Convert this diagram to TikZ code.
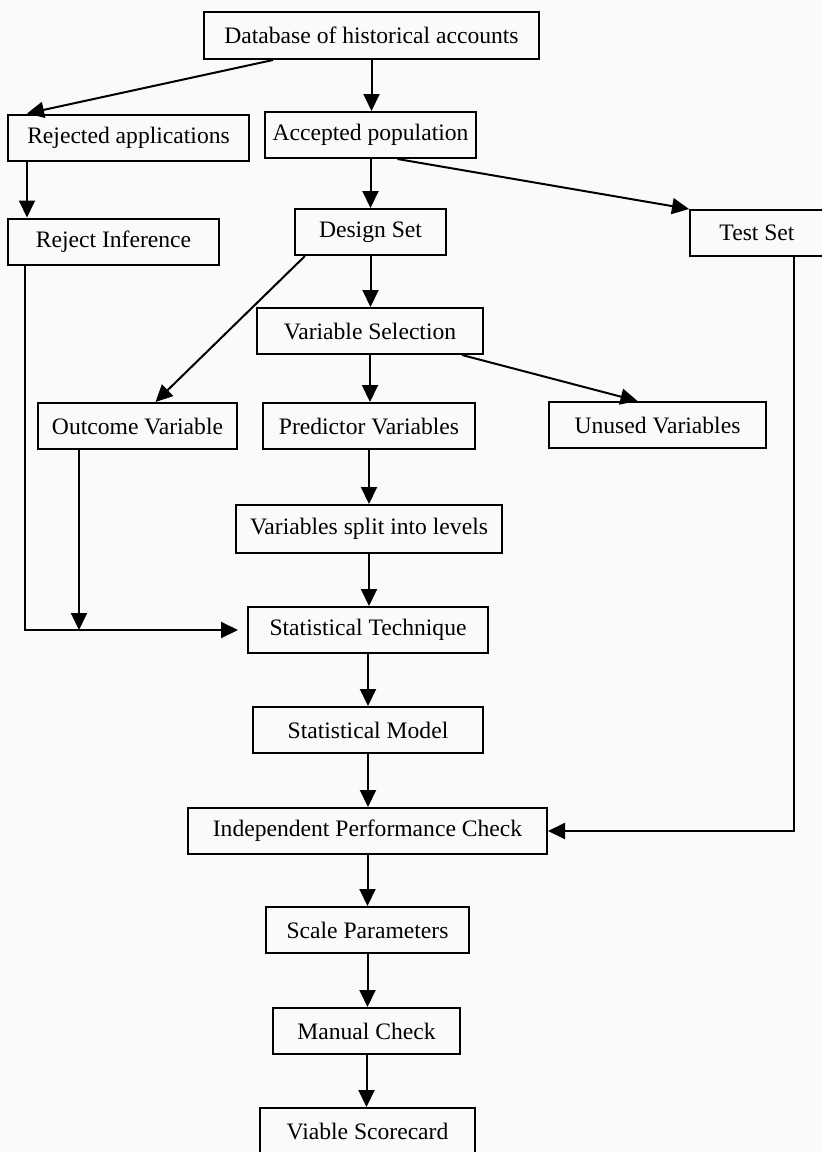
\documentclass[tikz,border=0pt]{standalone}
\usepackage{fontspec}
\setmainfont{Liberation Serif}
\usetikzlibrary{arrows.meta,calc}

\tikzset{
  flowbox/.style={draw, line width=1pt, inner sep=0pt, minimum height=23pt,
    font=\fontsize{11.8}{14}\selectfont},
  bw/.style={minimum width=#1*0.5pt},
  flowarrow/.style={line width=1pt, -{Triangle[length=8.5pt,width=8pt]}}
}

\begin{document}
\begin{tikzpicture}[x=0.5pt,y=-0.5pt]
\fill[black!2] (0,0) rectangle (822,1152);
\useasboundingbox (0,0) rectangle (822,1152);

% boxes
\node[flowbox,bw=335,minimum height=23.5pt] (db) at (371.5,35.5) {Database of historical accounts};
\node[flowbox,bw=241] (rej) at (128.5,137.5) {Rejected applications};
\node[flowbox,bw=211] (acc) at (370.5,135) {Accepted population};
\node[flowbox,bw=211] (ri) at (113.5,241.5) {Reject Inference};
\node[flowbox,bw=151] (ds) at (370.5,232) {Design Set};
\node[flowbox,bw=134] (ts) at (757,233) {Test Set};
\node[flowbox,bw=226] (vs) at (370,331) {Variable Selection};
\node[flowbox,bw=199] (ov) at (137.5,426) {Outcome Variable};
\node[flowbox,bw=212] (pv) at (369,426) {Predictor Variables};
\node[flowbox,bw=217] (uv) at (657.5,425) {Unused Variables};
\node[flowbox,bw=266,minimum height=24pt] (split) at (369,529) {Variables split into levels};
\node[flowbox,bw=240] (st) at (368,630) {Statistical Technique};
\node[flowbox,bw=230] (sm) at (368,730) {Statistical Model};
\node[flowbox,bw=359] (ipc) at (367.5,831) {Independent Performance Check};
\node[flowbox,bw=203] (sp) at (367.5,930) {Scale Parameters};
\node[flowbox,bw=187] (mc) at (366.5,1031) {Manual Check};
\node[flowbox,bw=215] (vsc) at (367.5,1131) {Viable Scorecard};

% connectors
\draw[flowarrow] ($(db.south west)+(70,0)$) -- ($(rej.north west)+(20,0)$);
\draw[flowarrow] (db.south) -- (db.south |- acc.north);
\draw[flowarrow] ($(rej.south west)+(20,0)$) -- ($(ri.north west)+(20,0)$);
\draw[flowarrow] (acc.south) -- (acc.south |- ds.north);
\draw[flowarrow] ($(acc.south)+(27,0)$) -- (ts.north west);
\draw[flowarrow] (ds.south) -- (ds.south |- vs.north);
\draw[flowarrow] ($(ds.south west)+(11,0)$) -- ($(ov.north)+(18,0)$);
\draw[flowarrow] (vs.south) -- (vs.south |- pv.north);
\draw[flowarrow] ($(vs.south east)+(-22,0)$) -- ($(uv.north)+(-20,0)$);
\draw[flowarrow] (pv.south) -- (pv.south |- split.north);
\draw[flowarrow] (split.south) -- (split.south |- st.north);
\draw[flowarrow,shorten >=4.5pt] ($(ri.south west)+(18,0)$) |- (st.west);
\coordinate (ovfoot) at ($(ov.south west)+(42,0)$);
\draw[flowarrow] (ovfoot) -- (ovfoot |- st.west);
\draw[flowarrow] (st.south) -- (st.south |- sm.north);
\draw[flowarrow] (sm.south) -- (sm.south |- ipc.north);
\coordinate (tsfoot) at ($(ts.south west)+(105,0)$);
\draw[flowarrow] (tsfoot) |- (ipc.east);
\draw[flowarrow] (ipc.south) -- (ipc.south |- sp.north);
\draw[flowarrow] (sp.south) -- (sp.south |- mc.north);
\draw[flowarrow] (mc.south) -- (mc.south |- vsc.north);
\end{tikzpicture}
\end{document}
